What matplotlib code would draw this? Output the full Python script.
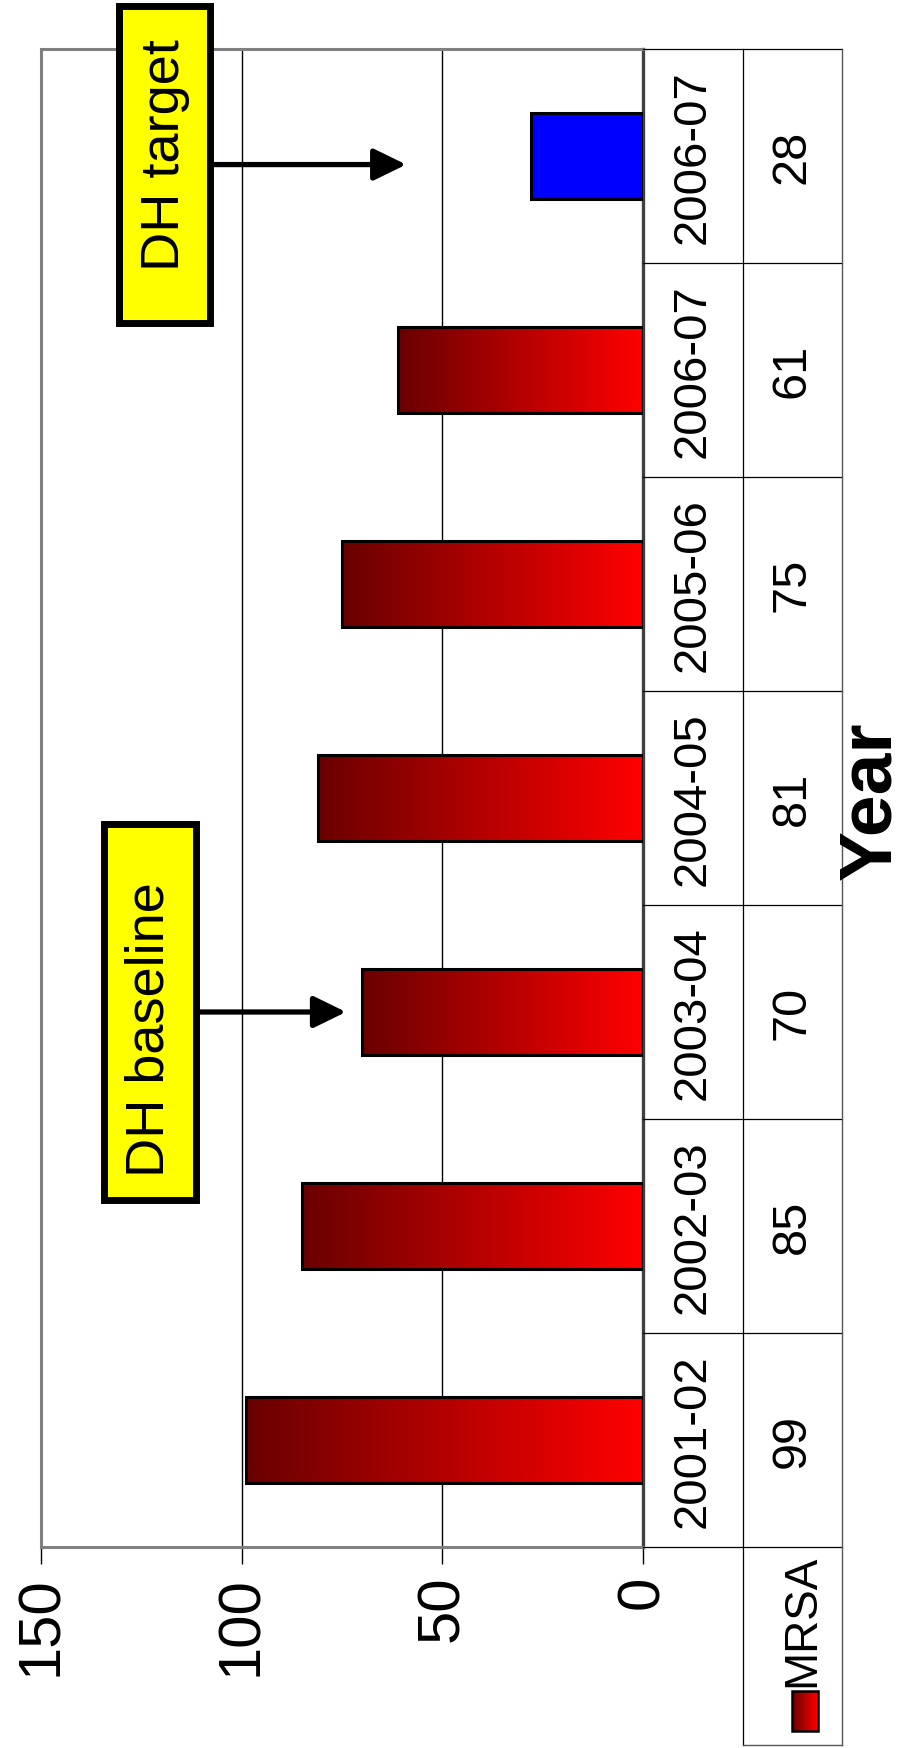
import numpy as np
import matplotlib.pyplot as plt
from matplotlib.colors import LinearSegmentedColormap
from matplotlib.patches import Rectangle

# chart data
years = ['2001-02', '2002-03', '2003-04', '2004-05', '2005-06', '2006-07', '2006-07']
mrsa = [99, 85, 70, 81, 75, 61, 28]
is_target = [False, False, False, False, False, False, True]
value_ticks = [0, 50, 100, 150]
series_name = 'MRSA'
axis_title = 'Year'

# callout boxes: text, category they sit beside, value the arrow points to
notes = ['DH baseline', 'DH target']
note_cat = [2, 5.96]
note_half = [0.88, 0.74]
note_span = [(111.5, 134.2), (107.8, 130.5)]
note_tip = [74, 59]
note_shift = [-0.08, 0.05]

chart_font = ['Liberation Sans Narrow', 'Liberation Sans', 'DejaVu Sans']
note_font = ['Liberation Sans', 'DejaVu Sans']

W, H = 908, 1749
fig = plt.figure(figsize=(W / 100, H / 100), dpi=100)
ax = fig.add_axes([41 / W, 201 / H, 602 / W, 1498 / H])
tax = fig.add_axes([643 / W, 201 / H, 199 / W, 1498 / H])

pos = np.arange(len(years))
reds = LinearSegmentedColormap.from_list('reds', ['#ff0000', '#6a0000'])
grad = np.linspace(0, 1, 256).reshape(1, -1)

# bars, red ones get a gradient fill
bars = ax.barh(pos, mrsa, height=0.4, color='none', edgecolor='black', linewidth=2.2, zorder=3)
for b, tgt in zip(bars, is_target):
    x0, y0, w, h = b.get_x(), b.get_y(), b.get_width(), b.get_height()
    if tgt:
        b.set_facecolor('#0000ff')
    else:
        ax.imshow(grad, cmap=reds, extent=[x0, x0 + w, y0, y0 + h], aspect='auto',
                  interpolation='bilinear', zorder=2)

ax.set_xlim(150, 0)
ax.set_ylim(-0.5, len(years) - 0.5)
ax.set_xticks(value_ticks)
ax.set_yticks([])
ax.xaxis.grid(True, color='black', linewidth=1.0)
ax.set_axisbelow(True)
ax.tick_params(axis='x', length=12, width=1, pad=8, labelsize=43, labelrotation=90)
for lbl in ax.get_xticklabels():
    lbl.set_fontfamily(chart_font)
for s in ['left', 'top', 'bottom']:
    ax.spines[s].set_color('#808080')
    ax.spines[s].set_linewidth(2.2)
ax.spines['right'].set_color('#404040')
ax.spines['right'].set_linewidth(2.4)

# callouts
for txt, c, half, (lo, hi), tip, sh in zip(notes, note_cat, note_half, note_span, note_tip, note_shift):
    ax.add_patch(Rectangle((lo, c - half), hi - lo, 2 * half, facecolor='#ffff00',
                           edgecolor='black', linewidth=5, clip_on=False, zorder=6))
    ax.text((lo + hi) / 2, c + sh, txt, rotation=90, ha='center', va='center', fontsize=39,
            family=note_font, zorder=7, clip_on=False)
    ax.annotate('', xy=(tip, c), xytext=(lo, c), annotation_clip=False, zorder=5,
                arrowprops=dict(arrowstyle='-|>,head_length=0.45,head_width=0.22',
                                mutation_scale=44, lw=3.8, color='black',
                                shrinkA=0, shrinkB=0))

# data table to the right of the bars
legend_bottom = -1.425
tax.set_xlim(0, 2)
tax.set_ylim(-0.5, len(years) - 0.5)
tax.axis('off')
for k in range(len(years) + 1):
    tax.plot([0, 2], [k - 0.5, k - 0.5], color='black', lw=0.9, clip_on=False)
tax.plot([1, 1], [legend_bottom, len(years) - 0.5], color='black', lw=0.9, clip_on=False)
tax.plot([2, 2], [legend_bottom, len(years) - 0.5], color='#555555', lw=1.0, clip_on=False)
tax.plot([1, 2], [legend_bottom, legend_bottom], color='#555555', lw=1.0, clip_on=False)
for i in pos:
    tax.text(0.5, i, years[i], rotation=90, ha='center', va='center', fontsize=34, family=chart_font)
    tax.text(1.5, i, str(mrsa[i]), rotation=90, ha='center', va='center', fontsize=35, family=chart_font)

# legend key in the table's header cell
tax.text(1.6, -0.84, series_name, rotation=90, ha='center', va='center', fontsize=33,
         family=chart_font, clip_on=False)
sw = tax.imshow(grad, cmap=reds, extent=[1.76, 1.5, -1.36, -1.175], aspect='auto',
                interpolation='bilinear')
sw.set_clip_on(False)
tax.add_patch(Rectangle((1.5, -1.36), 0.26, 0.185, facecolor='none', edgecolor='black',
                        linewidth=1.8, clip_on=False))
tax.set_xlim(0, 2)
tax.set_ylim(-0.5, len(years) - 0.5)

fig.text(871 / W, 1 - 801 / H, axis_title, rotation=90, ha='center', va='center',
         fontsize=54, fontweight='bold', family=chart_font)

fig.savefig('out.png', dpi=100)
